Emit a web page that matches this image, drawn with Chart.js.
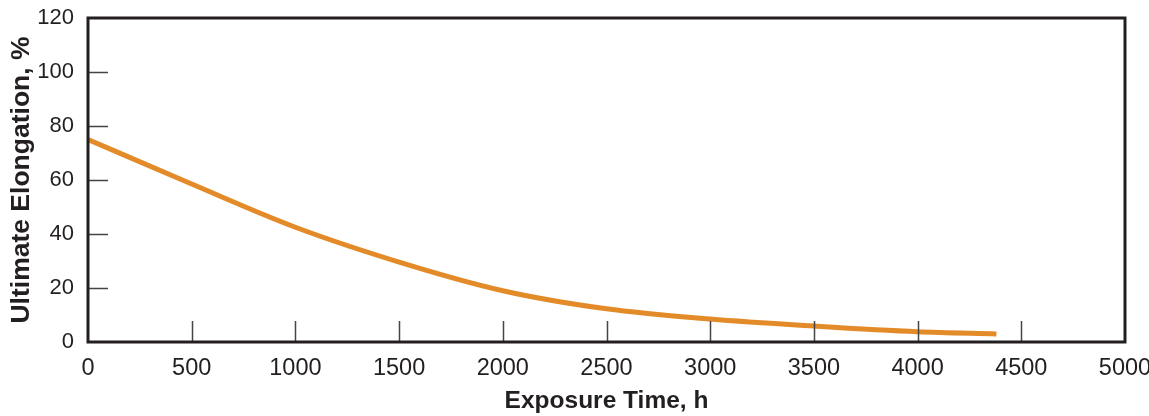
<!DOCTYPE html>
<html>
<head>
<meta charset="utf-8">
<script src="https://cdn.jsdelivr.net/npm/chart.js@4.4.1/dist/chart.umd.min.js"></script>
<style>
  html, body { margin: 0; padding: 0; background: #fff; }
  #wrap { width: 1149px; height: 416px; }
</style>
</head>
<body>
<div id="wrap"><canvas id="c" width="1149" height="416"></canvas></div>
<script>
const exposureHours = [0, 500, 1000, 1500, 2000, 2500, 3000, 3500, 4000, 4380];
const elongationPct = [75, 58.5, 42.5, 29.6, 19.0, 12.3, 8.5, 5.9, 3.8, 3.0];
const xTickValues = [0, 500, 1000, 1500, 2000, 2500, 3000, 3500, 4000, 4500, 5000];
const yTickValues = [0, 20, 40, 60, 80, 100, 120];
const xInnerTicks = [500, 1000, 1500, 2000, 2500, 3000, 3500, 4000, 4500];
const yInnerTicks = [20, 40, 60, 80, 100];

const points = exposureHours.map((h, i) => ({ x: h, y: elongationPct[i] }));

const frameAndTicks = {
  id: 'frameAndTicks',
  afterDatasetsDraw(chart) {
    const { ctx, chartArea: a, scales } = chart;
    ctx.save();
    ctx.strokeStyle = '#444';
    ctx.lineWidth = 1.5;
    ctx.beginPath();
    xInnerTicks.forEach(v => {
      const px = Math.round(scales.x.getPixelForValue(v)) + 0.5;
      ctx.moveTo(px, a.bottom);
      ctx.lineTo(px, a.bottom - 21);
    });
    yInnerTicks.forEach(v => {
      const py = Math.round(scales.y.getPixelForValue(v)) + 0.5;
      ctx.moveTo(a.left, py);
      ctx.lineTo(a.left + 20, py);
    });
    ctx.stroke();
    ctx.strokeStyle = '#231f20';
    ctx.lineWidth = 3;
    ctx.lineCap = 'square';
    ctx.beginPath();
    ctx.moveTo(a.left, a.bottom);
    ctx.lineTo(a.left, a.top);
    ctx.lineTo(a.right, a.top);
    ctx.lineTo(a.right, a.bottom);
    ctx.lineTo(a.left, a.bottom);
    ctx.stroke();
    ctx.restore();
  }
};

const font = "'Liberation Sans', Arial, sans-serif";
const plain = v => String(v);

new Chart(document.getElementById('c'), {
  type: 'line',
  data: {
    datasets: [{
      data: points,
      borderColor: '#E38B29',
      borderWidth: 5,
      pointRadius: 0,
      cubicInterpolationMode: 'monotone',
      fill: false
    }]
  },
  options: {
    responsive: false,
    animation: false,
    layout: { padding: { top: 18, right: 24, left: 0, bottom: 0 } },
    plugins: { legend: { display: false }, tooltip: { enabled: false } },
    scales: {
      x: {
        type: 'linear',
        min: 0, max: 5000,
        afterBuildTicks(s) { s.ticks = xTickValues.map(v => ({ value: v })); },
        afterFit(s) { s.height = 74; s.paddingLeft = 0; s.paddingRight = 0; },
        grid: { display: false, drawTicks: false },
        border: { display: false },
        ticks: { color: '#231f20', font: { family: font, size: 23.5 }, padding: 12, maxRotation: 0, autoSkip: false, callback: plain },
        title: { display: true, text: 'Exposure Time, h', color: '#231f20', font: { family: font, size: 24.5, weight: 'bold' }, padding: { top: 2, bottom: 0 } }
      },
      y: {
        type: 'linear',
        min: 0, max: 120,
        afterBuildTicks(s) { s.ticks = yTickValues.map(v => ({ value: v })); },
        afterFit(s) { s.width = 88; s.paddingTop = 0; s.paddingBottom = 0; },
        grid: { display: false, drawTicks: false },
        border: { display: false },
        ticks: { color: '#231f20', font: { family: font, size: 22 }, padding: 14, callback: plain },
        title: { display: true, text: 'Ultimate Elongation, %', color: '#231f20', font: { family: font, size: 26.5, weight: 'bold' }, padding: { top: 6, bottom: 4 } }
      }
    }
  },
  plugins: [frameAndTicks]
});
</script>
</body>
</html>
